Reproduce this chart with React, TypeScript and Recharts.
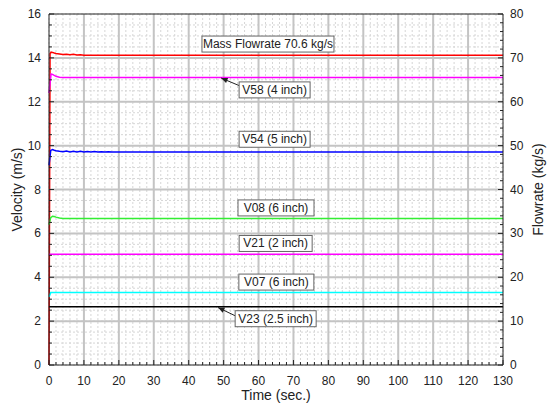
import {
  CartesianGrid,
  Line,
  LineChart,
  ReferenceDot,
  ReferenceLine,
  XAxis,
  YAxis,
} from 'recharts';

// time (s) / value pairs, one small set per probe
const MASS_T = [0, 0.3, 0.6, 1, 1.5, 2, 3, 4, 5, 6, 7, 8, 9, 10, 130];
const MASS_FLOW = [0, 71.0, 71.3, 71.25, 71.1, 71.0, 70.9, 70.75, 70.85, 70.7, 70.8, 70.65, 70.7, 70.6, 70.6];

const V58_T = [0, 0.6, 1, 1.5, 2, 3, 4, 130];
const V58 = [12.4, 13.27, 13.25, 13.2, 13.16, 13.12, 13.1, 13.1];

const V54_T = [0, 0.5, 1, 1.5, 2, 3, 4, 5, 6, 7, 8, 9, 10, 11, 12, 13, 14, 15, 16, 17, 18, 130];
const V54 = [9.1, 9.78, 9.82, 9.79, 9.77, 9.74, 9.72, 9.75, 9.71, 9.74, 9.71, 9.74, 9.71, 9.73, 9.71, 9.73, 9.71, 9.72, 9.71, 9.72, 9.71, 9.71];

const V08_T = [0, 0.5, 1, 1.5, 2, 3, 4, 130];
const V08 = [6.4, 6.72, 6.78, 6.77, 6.74, 6.7, 6.68, 6.68];

const V21_T = [0, 130];
const V21 = [5.05, 5.05];

const V07_T = [0, 0.5, 130];
const V07 = [3.1, 3.3, 3.3];

const V23_T = [0, 130];
const V23 = [2.65, 2.65];

// major tick values
const TIME_MAJOR = [0, 10, 20, 30, 40, 50, 60, 70, 80, 90, 100, 110, 120, 130];
const VEL_MAJOR = [0, 2, 4, 6, 8, 10, 12, 14, 16];
const FLOW_MAJOR = [0, 10, 20, 30, 40, 50, 60, 70, 80];

// annotation boxes (data units) and arrows
const NOTES = [
  { text: 'Mass Flowrate 70.6 kg/s', x: 62.7, y: 14.63, w: 132 },
  { text: 'V58 (4 inch)', x: 64.6, y: 12.54, w: 71 },
  { text: 'V54 (5 inch)', x: 64.6, y: 10.29, w: 71 },
  { text: 'V08 (6 inch)', x: 65.0, y: 7.16, w: 76 },
  { text: 'V21 (2 inch)', x: 64.9, y: 5.54, w: 73 },
  { text: 'V07 (6 inch)', x: 65.1, y: 3.78, w: 75 },
  { text: 'V23 (2.5 inch)', x: 64.9, y: 2.11, w: 81 },
];
const ARROWS = [
  { from: { x: 54.7, y: 12.72 }, to: { x: 49.3, y: 13.08 } },
  { from: { x: 53.5, y: 2.23 }, to: { x: 48.4, y: 2.62 } },
];

const FONT = '"Liberation Sans", Arial, sans-serif';
const AXIS_COLOR = '#222';
const MAJOR_GRID = '#c4c4c4';

const toPoints = (ts: number[], vs: number[]) => ts.map((t, i) => ({ t, v: vs[i] }));

// subdivide major ticks into minor ones
const withMinor = (major: number[], parts: number) => {
  const out: number[] = [];
  for (let i = 0; i < major.length - 1; i++) {
    const step = (major[i + 1] - major[i]) / parts;
    for (let k = 0; k < parts; k++) out.push(+(major[i] + k * step).toFixed(4));
  }
  out.push(major[major.length - 1]);
  return out;
};

const TIME_TICKS = withMinor(TIME_MAJOR, 5);
const VEL_TICKS = withMinor(VEL_MAJOR, 4);
const FLOW_TICKS = withMinor(FLOW_MAJOR, 5);

const isMajor = (v: number, majors: number[]) => majors.some((m) => Math.abs(m - v) < 1e-6);

const labelStyle = { fontFamily: FONT, fontSize: 12, fill: '#222' };

const LeftTick = (props: any) => {
  const { x, y, payload } = props;
  const major = isMajor(payload.value, VEL_MAJOR);
  return (
    <g>
      <line x1={x} x2={x + (major ? 5 : 3)} y1={y} y2={y} stroke={AXIS_COLOR} />
      {major && (
        <text x={x - 8} y={y + 4} textAnchor="end" style={labelStyle}>
          {payload.value}
        </text>
      )}
    </g>
  );
};

const RightTick = (props: any) => {
  const { x, y, payload } = props;
  const major = isMajor(payload.value, FLOW_MAJOR);
  return (
    <g>
      <line x1={x} x2={x - (major ? 5 : 3)} y1={y} y2={y} stroke={AXIS_COLOR} />
      {major && (
        <text x={x + 7} y={y + 4} textAnchor="start" style={labelStyle}>
          {payload.value}
        </text>
      )}
    </g>
  );
};

const BottomTick = (props: any) => {
  const { x, y, payload } = props;
  const major = isMajor(payload.value, TIME_MAJOR);
  return (
    <g>
      <line x1={x} x2={x} y1={y} y2={y - (major ? 5 : 3)} stroke={AXIS_COLOR} />
      {major && (
        <text x={x} y={y + 20} textAnchor="middle" style={labelStyle}>
          {payload.value}
        </text>
      )}
    </g>
  );
};

const noteShape = (text: string, w: number) => (p: any) => (
  <g>
    <rect x={p.cx - w / 2} y={p.cy - 8} width={w} height={16} fill="#fff" stroke="#666" />
    <text x={p.cx} y={p.cy + 4} textAnchor="middle" style={labelStyle}>
      {text}
    </text>
  </g>
);

const arrowShape = (p: any) => {
  const { x1, y1, x2, y2 } = p;
  const a = Math.atan2(y2 - y1, x2 - x1);
  const len = 7;
  const spread = 0.4;
  const pts = [
    [x2, y2],
    [x2 - len * Math.cos(a - spread), y2 - len * Math.sin(a - spread)],
    [x2 - len * Math.cos(a + spread), y2 - len * Math.sin(a + spread)],
  ]
    .map((q) => q.join(','))
    .join(' ');
  return (
    <g>
      <line x1={x1} y1={y1} x2={x2} y2={y2} stroke="#222" />
      <polygon points={pts} fill="#222" />
    </g>
  );
};

const series = [
  { name: 'Mass Flowrate', data: toPoints(MASS_T, MASS_FLOW), color: '#ff0000', axis: 'f' },
  { name: 'V58', data: toPoints(V58_T, V58), color: '#ff00ff', axis: 'v' },
  { name: 'V54', data: toPoints(V54_T, V54), color: '#0000ff', axis: 'v' },
  { name: 'V08', data: toPoints(V08_T, V08), color: '#33ee33', axis: 'v' },
  { name: 'V21', data: toPoints(V21_T, V21), color: '#ff00ff', axis: 'v' },
  { name: 'V07', data: toPoints(V07_T, V07), color: '#00ffff', axis: 'v' },
  { name: 'V23', data: toPoints(V23_T, V23), color: '#000000', axis: 'v' },
];

const titleStyle = { fontFamily: FONT, fontSize: 14, fill: '#222' };

export default function App() {
  return (
    <div style={{ position: 'absolute', left: 0, top: 0, width: 551, height: 409, background: '#fff' }}>
      <LineChart width={551} height={409} margin={{ top: 14, right: 0, bottom: 0, left: 0 }}>
        <XAxis
          xAxisId="t"
          type="number"
          dataKey="t"
          domain={[0, 130]}
          ticks={TIME_TICKS}
          interval={0}
          height={44}
          tickSize={0}
          tickMargin={0}
          tickLine={false}
          tick={BottomTick}
          axisLine={{ stroke: AXIS_COLOR }}
          label={{
            content: ({ viewBox }: any) => (
              <text x={viewBox.x + viewBox.width / 2} y={viewBox.y + 35} textAnchor="middle" style={titleStyle}>
                Time (sec.)
              </text>
            ),
          }}
        />
        <YAxis
          yAxisId="v"
          domain={[0, 16]}
          ticks={VEL_TICKS}
          interval={0}
          width={49}
          tickSize={0}
          tickMargin={0}
          tickLine={false}
          tick={LeftTick}
          axisLine={{ stroke: AXIS_COLOR }}
          label={{
            content: ({ viewBox }: any) => {
              const cx = viewBox.x + 17;
              const cy = viewBox.y + viewBox.height / 2;
              return (
                <text x={cx} y={cy} textAnchor="middle" dominantBaseline="central" transform={`rotate(-90 ${cx} ${cy})`} style={titleStyle}>
                  Velocity (m/s)
                </text>
              );
            },
          }}
        />
        <YAxis
          yAxisId="f"
          orientation="right"
          domain={[0, 80]}
          ticks={FLOW_TICKS}
          interval={0}
          width={48}
          tickSize={0}
          tickMargin={0}
          tickLine={false}
          tick={RightTick}
          axisLine={{ stroke: AXIS_COLOR }}
          label={{
            content: ({ viewBox }: any) => {
              const cx = viewBox.x + 35;
              const cy = viewBox.y + viewBox.height / 2;
              return (
                <text x={cx} y={cy} textAnchor="middle" dominantBaseline="central" transform={`rotate(-90 ${cx} ${cy})`} style={titleStyle}>
                  Flowrate (kg/s)
                </text>
              );
            },
          }}
        />
        <CartesianGrid xAxisId="t" yAxisId="v" stroke="#d6d6d6" strokeDasharray="2 2" />
        {VEL_MAJOR.slice(1, -1).map((v) => (
          <ReferenceLine key={`gy-${v}`} xAxisId="t" yAxisId="v" y={v} stroke={MAJOR_GRID} strokeWidth={2} />
        ))}
        {TIME_MAJOR.slice(1, -1).map((t) => (
          <ReferenceLine key={`gx-${t}`} xAxisId="t" yAxisId="v" x={t} stroke={MAJOR_GRID} strokeWidth={2} />
        ))}
        <ReferenceLine xAxisId="t" yAxisId="v" y={16} stroke={AXIS_COLOR} />
        {series.map((s) => (
          <Line
            key={s.name}
            xAxisId="t"
            yAxisId={s.axis}
            data={s.data}
            dataKey="v"
            type="linear"
            stroke={s.color}
            strokeWidth={1.5}
            dot={false}
            isAnimationActive={false}
          />
        ))}
        {ARROWS.map((a, i) => (
          <ReferenceLine
            key={`arrow-${i}`}
            xAxisId="t"
            yAxisId="v"
            segment={[a.from, a.to]}
            shape={arrowShape}
          />
        ))}
        {NOTES.map((n) => (
          <ReferenceDot
            key={n.text}
            xAxisId="t"
            yAxisId="v"
            x={n.x}
            y={n.y}
            shape={noteShape(n.text, n.w)}
          />
        ))}
      </LineChart>
    </div>
  );
}
